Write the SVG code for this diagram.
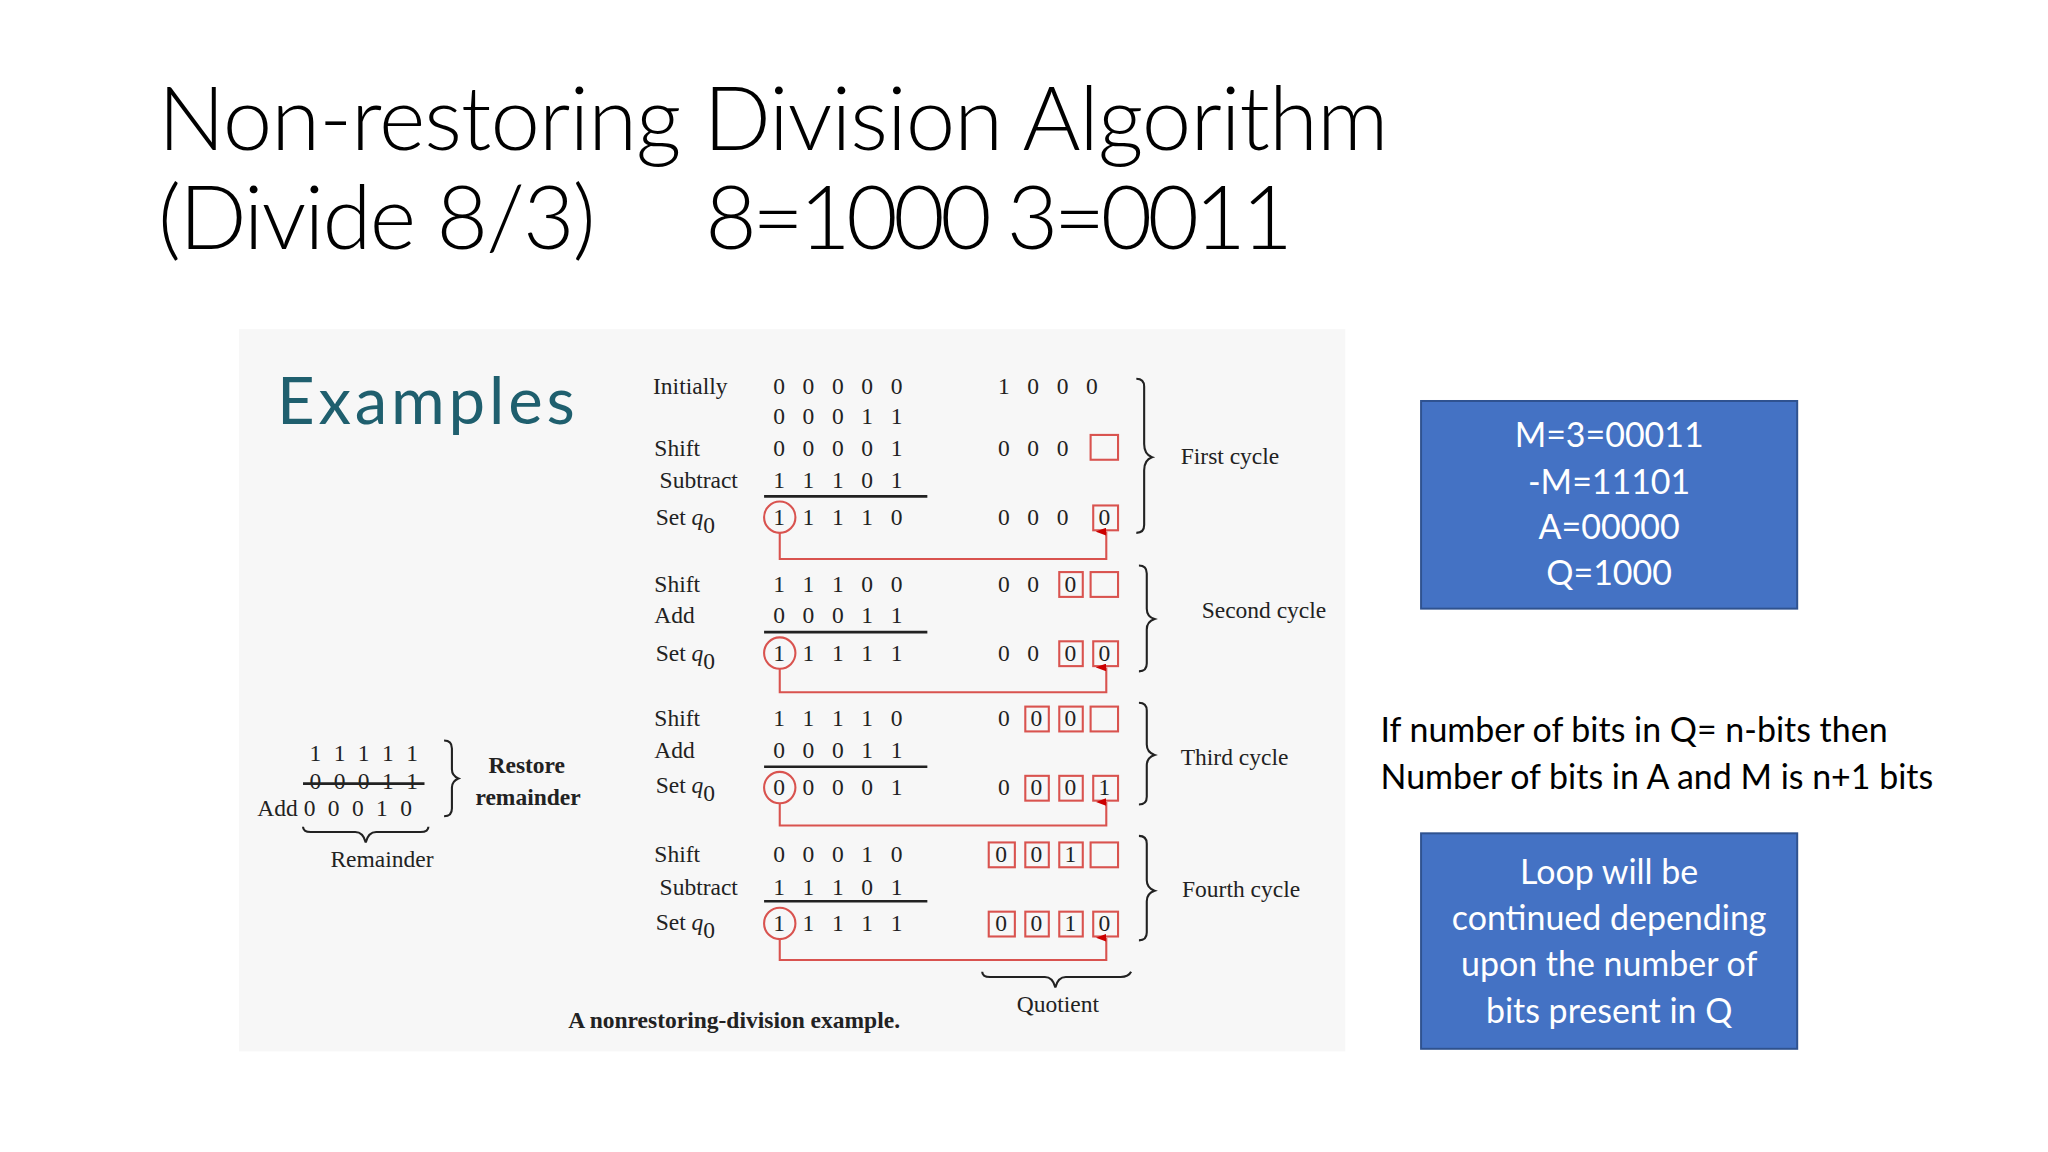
<svg xmlns="http://www.w3.org/2000/svg" width="2048" height="1152" viewBox="0 0 2048 1152">
<defs>
<style>
.t{font-family:"Liberation Serif",serif;font-size:18px;fill:#222}
.b{font-weight:bold}
.s{font-family:Lato,"Liberation Sans",sans-serif;fill:#000}
.w{font-family:Lato,"Liberation Sans",sans-serif;font-size:26px;fill:#fff;text-anchor:middle}
.rb{fill:none;stroke:#d9534f;stroke-width:1.6}
.cn{fill:none;stroke:#d9534f;stroke-width:1.6}
.br{fill:none;stroke:#222;stroke-width:1.6}
.ln{stroke:#222;stroke-width:2}
</style>
<marker id="ah" markerWidth="6" markerHeight="8" refX="3" refY="8" orient="auto-start-reverse" markerUnits="userSpaceOnUse"><path d="M0,8 L3,0 L6,8 Z" fill="#c00"/></marker>
</defs>
<rect width="2048" height="1152" fill="#fff"/>
<g transform="scale(1.30612)">
<text class="s" x="121" y="115" font-size="68" font-weight="300" textLength="942">Non-restoring Division Algorithm</text>
<text class="s" x="121" y="191" font-size="68" font-weight="300" textLength="335">(Divide 8/3)</text>
<text class="s" x="540" y="191" font-size="68" font-weight="300" textLength="450">8=1000 3=0011</text>
<rect x="183" y="252" width="847" height="553" fill="#f7f7f7"/>
<text x="212" y="325" font-family="Lato,'Open Sans',sans-serif" font-size="50" fill="#1f5f6e" textLength="228">Examples</text>

<g id="cycle1">
<text class="t" x="500" y="302">Initially</text>
<text class="t" x="501" y="349">Shift</text>
<text class="t" x="505" y="374">Subtract</text>
<text class="t" x="502" y="402">Set <tspan font-style="italic">q</tspan><tspan dy="6">0</tspan></text>
<text class="t" x="592" y="302" word-spacing="9">0 0 0 0 0</text>
<text class="t" x="592" y="325" word-spacing="9">0 0 0 1 1</text>
<text class="t" x="592" y="349" word-spacing="9">0 0 0 0 1</text>
<text class="t" x="592" y="374" word-spacing="9">1 1 1 0 1</text>
<line class="ln" x1="585" y1="380" x2="710" y2="380"/>
<text class="t" x="592" y="402" word-spacing="9">1 1 1 1 0</text>
<text class="t" x="764" y="302" word-spacing="9">1 0 0 0</text>
<text class="t" x="764" y="349" word-spacing="9">0 0 0</text>
<rect class="rb" x="835" y="333" width="21" height="19"/>
<text class="t" x="764" y="402" word-spacing="9">0 0 0</text>
<rect class="rb" x="837" y="387" width="19" height="19"/><text class="t" x="841" y="402">0</text>
<circle class="rb" cx="597" cy="396" r="12"/>
<path class="br" d="M870,290 q6,0 6,6 v44 q0,8 6,10 q-6,2 -6,10 v42 q0,6 -6,6"/>
<text class="t" x="904" y="355">First cycle</text>
</g>

<g id="cycle2">
<text class="t" x="501" y="453">Shift</text>
<text class="t" x="501" y="477">Add</text>
<text class="t" x="502" y="506">Set <tspan font-style="italic">q</tspan><tspan dy="6">0</tspan></text>
<text class="t" x="592" y="453" word-spacing="9">1 1 1 0 0</text>
<text class="t" x="592" y="477" word-spacing="9">0 0 0 1 1</text>
<line class="ln" x1="585" y1="484" x2="710" y2="484"/>
<text class="t" x="592" y="506" word-spacing="9">1 1 1 1 1</text>
<text class="t" x="764" y="453" word-spacing="9">0 0</text>
<rect class="rb" x="811" y="438" width="18" height="19"/><text class="t" x="815" y="453">0</text>
<rect class="rb" x="835" y="438" width="21" height="19"/>
<text class="t" x="764" y="506" word-spacing="9">0 0</text>
<rect class="rb" x="811" y="491" width="18" height="19"/><text class="t" x="815" y="506">0</text>
<rect class="rb" x="837" y="491" width="19" height="19"/><text class="t" x="841" y="506">0</text>
<circle class="rb" cx="597" cy="500" r="12"/>
<path class="br" d="M872,433 q6,0 6,6 v27 q0,6 6,8 q-6,2 -6,8 v26 q0,6 -6,6"/>
<text class="t" x="920" y="473" font-size="12">Second cycle</text>
</g>

<g id="cycle3">
<text class="t" x="501" y="556">Shift</text>
<text class="t" x="501" y="580">Add</text>
<text class="t" x="502" y="607">Set <tspan font-style="italic">q</tspan><tspan dy="6">0</tspan></text>
<text class="t" x="592" y="556" word-spacing="9">1 1 1 1 0</text>
<text class="t" x="592" y="580" word-spacing="9">0 0 0 1 1</text>
<line class="ln" x1="585" y1="587" x2="710" y2="587"/>
<text class="t" x="592" y="609" word-spacing="9">0 0 0 0 1</text>
<text class="t" x="764" y="556">0</text>
<rect class="rb" x="785" y="541" width="18" height="19"/><text class="t" x="789" y="556">0</text>
<rect class="rb" x="811" y="541" width="18" height="19"/><text class="t" x="815" y="556">0</text>
<rect class="rb" x="835" y="541" width="21" height="19"/>
<text class="t" x="764" y="609">0</text>
<rect class="rb" x="785" y="594" width="18" height="19"/><text class="t" x="789" y="609">0</text>
<rect class="rb" x="811" y="594" width="18" height="19"/><text class="t" x="815" y="609">0</text>
<rect class="rb" x="837" y="594" width="19" height="19"/><text class="t" x="841" y="609">1</text>
<circle class="rb" cx="597" cy="603" r="12"/>
<path class="br" d="M872,538 q6,0 6,6 v26 q0,6 6,8 q-6,2 -6,8 v24 q0,6 -6,6"/>
<text class="t" x="904" y="586">Third cycle</text>
</g>

<g id="cycle4">
<text class="t" x="501" y="660">Shift</text>
<text class="t" x="505" y="685">Subtract</text>
<text class="t" x="502" y="712">Set <tspan font-style="italic">q</tspan><tspan dy="6">0</tspan></text>
<text class="t" x="592" y="660" word-spacing="9">0 0 0 1 0</text>
<text class="t" x="592" y="685" word-spacing="9">1 1 1 0 1</text>
<line class="ln" x1="585" y1="690" x2="710" y2="690"/>
<text class="t" x="592" y="713" word-spacing="9">1 1 1 1 1</text>
<rect class="rb" x="757" y="645" width="20" height="19"/><text class="t" x="762" y="660">0</text>
<rect class="rb" x="785" y="645" width="18" height="19"/><text class="t" x="789" y="660">0</text>
<rect class="rb" x="811" y="645" width="18" height="19"/><text class="t" x="815" y="660">1</text>
<rect class="rb" x="835" y="645" width="21" height="19"/>
<rect class="rb" x="757" y="698" width="20" height="19"/><text class="t" x="762" y="713">0</text>
<rect class="rb" x="785" y="698" width="18" height="19"/><text class="t" x="789" y="713">0</text>
<rect class="rb" x="811" y="698" width="18" height="19"/><text class="t" x="815" y="713">1</text>
<rect class="rb" x="837" y="698" width="19" height="19"/><text class="t" x="841" y="713">0</text>
<circle class="rb" cx="597" cy="707" r="12"/>
<path class="br" d="M872,640 q6,0 6,6 v28 q0,6 6,8 q-6,2 -6,8 v24 q0,6 -6,6"/>
<text class="t" x="905" y="687">Fourth cycle</text>
</g>

<g id="connectors">
<path class="cn" d="M597,408 V428 H847 V407" marker-end="url(#ah)"/>
<path class="cn" d="M597,512 V530 H847 V511" marker-end="url(#ah)"/>
<path class="cn" d="M597,615 V632 H847 V614" marker-end="url(#ah)"/>
<path class="cn" d="M597,719 V735 H847 V718" marker-end="url(#ah)"/>
</g>

<g id="quotient">
<path class="br" d="M752,744 q0,4 6,4 h42 q6,0 8,8 q2,-8 8,-8 h42 q6,0 8,-4"/>
<text class="t" x="810" y="775" font-size="13" text-anchor="middle">Quotient</text>
</g>
<text class="t b" x="435" y="787">A nonrestoring-division example.</text>

<g id="restore">
<text class="t" x="237" y="583" word-spacing="5">1 1 1 1 1</text>
<text class="t" x="237" y="604" word-spacing="5">0 0 0 1 1</text>
<line class="ln" x1="232" y1="600" x2="325" y2="600" stroke-width="1.6"/>
<text class="t" x="197" y="625">Add <tspan word-spacing="5">0 0 0 1 0</tspan></text>
<path class="br" d="M340,567 q6,0 6,6 v16 q0,5 5,7 q-5,2 -5,7 v16 q0,6 -6,6"/>
<text class="t b" x="374" y="592">Restore</text>
<text class="t b" x="364" y="616">remainder</text>
<path class="br" d="M232,633 q0,4 6,4 h34 q6,0 8,8 q2,-8 8,-8 h34 q6,0 6,-4"/>
<text class="t" x="253" y="664">Remainder</text>
</g>

<g id="box1">
<rect x="1088" y="307" width="288" height="159" fill="#4472c4" stroke="#2f528f" stroke-width="1.5"/>
<text class="w" x="1232" y="342">M=3=00011</text>
<text class="w" x="1232" y="378">-M=11101</text>
<text class="w" x="1232" y="413">A=00000</text>
<text class="w" x="1232" y="448">Q=1000</text>
</g>
<g id="note">
<text class="s" x="1057" y="568" font-size="26">If number of bits in Q= n-bits then</text>
<text class="s" x="1057" y="604" font-size="26">Number of bits in A and M is n+1 bits</text>
</g>
<g id="box2">
<rect x="1088" y="638" width="288" height="165" fill="#4472c4" stroke="#2f528f" stroke-width="1.5"/>
<text class="w" x="1232" y="677">Loop will be</text>
<text class="w" x="1232" y="712">continued depending</text>
<text class="w" x="1232" y="747">upon the number of</text>
<text class="w" x="1232" y="783">bits present in Q</text>
</g>
</g>
</svg>
